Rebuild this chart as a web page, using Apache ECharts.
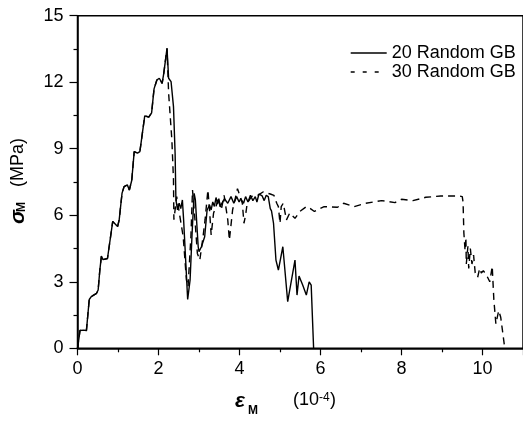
<!DOCTYPE html>
<html>
<head>
<meta charset="utf-8">
<script src="https://cdn.jsdelivr.net/npm/echarts@6/dist/echarts.min.js"></script>
<style>
  html, body { margin: 0; padding: 0; background: #fff; }
  #chart { width: 523px; height: 422px; }
</style>
</head>
<body>
<div id="chart"></div>
<script>
// strain (10^-4) vs stress (MPa)
const seriesNames = ['20 Random GB', '30 Random GB'];

const riseToPeak = [
  [0, 0], [0.04, 0.5], [0.06, 0.8], [0.15, 0.82], [0.22, 0.8], [0.29, 2.2], [0.34, 2.33],
  [0.47, 2.48], [0.51, 2.63], [0.55, 3.5], [0.59, 4.16], [0.63, 4.0], [0.74, 4.05],
  [0.87, 5.72], [0.91, 5.64], [0.99, 5.49], [1.03, 5.8], [1.1, 7.0], [1.15, 7.29],
  [1.23, 7.37], [1.28, 7.14], [1.34, 7.58], [1.4, 8.87], [1.48, 8.8], [1.54, 8.87],
  [1.58, 8.85], [1.66, 10.48], [1.76, 10.43], [1.83, 10.62], [1.89, 11.7], [1.96, 12.1],
  [2.02, 12.18], [2.09, 11.95], [2.13, 12.4], [2.21, 13.53]
];

const gb20After = [
  [2.25, 12.18], [2.31, 12.03], [2.37, 10.9], [2.41, 8.8], [2.43, 6.69], [2.47, 6.24],
  [2.51, 6.54], [2.55, 6.3], [2.59, 6.69], [2.62, 5.8], [2.72, 2.2], [2.78, 3.08],
  [2.83, 5.2], [2.88, 6.99], [2.91, 6.7], [2.98, 4.58], [3.0, 4.36], [3.06, 4.58],
  [3.14, 5.03], [3.2, 6.24], [3.26, 6.46], [3.3, 6.24], [3.34, 6.6], [3.38, 6.4],
  [3.42, 6.8], [3.46, 6.5], [3.49, 6.75], [3.52, 6.39], [3.63, 6.75], [3.71, 6.54],
  [3.79, 6.84], [3.86, 6.54], [3.93, 6.84], [3.99, 6.6], [4.03, 6.75], [4.1, 6.54],
  [4.15, 6.84], [4.21, 6.6], [4.27, 6.9], [4.33, 6.66], [4.39, 6.84], [4.43, 6.6],
  [4.48, 6.96], [4.56, 6.87], [4.61, 6.66], [4.66, 6.9], [4.71, 6.84], [4.76, 6.3],
  [4.79, 6.2], [4.84, 5.64], [4.9, 3.98], [4.96, 3.53], [5.07, 4.58], [5.19, 2.1],
  [5.37, 3.98], [5.42, 2.4], [5.47, 3.26], [5.56, 2.85], [5.65, 2.4], [5.72, 3.0],
  [5.77, 2.85], [5.83, 0]
];

const gb30After = [
  [2.25, 11.5], [2.33, 9.4], [2.37, 7.6], [2.38, 5.8], [2.45, 6.84], [2.53, 5.93],
  [2.61, 5.03], [2.69, 3.08], [2.73, 2.78], [2.8, 5.03], [2.84, 7.14], [2.9, 5.8],
  [2.96, 4.28], [3.02, 3.98], [3.1, 5.03], [3.15, 5.8], [3.22, 7.14], [3.26, 6.24],
  [3.3, 5.11], [3.36, 6.1], [3.42, 6.39], [3.48, 6.8], [3.55, 6.24], [3.62, 6.9],
  [3.71, 5.8], [3.75, 4.88], [3.83, 6.24], [3.95, 7.2], [4.07, 6.54], [4.11, 5.64],
  [4.15, 6.0], [4.19, 6.54], [4.3, 6.85], [4.45, 6.9], [4.58, 7.05], [4.67, 7.0],
  [4.76, 6.96], [4.85, 6.9], [4.92, 6.54], [4.96, 6.39], [5.0, 5.64], [5.03, 6.39],
  [5.08, 6.54], [5.16, 5.79], [5.24, 6.1], [5.37, 5.86], [5.49, 6.17], [5.65, 6.39],
  [5.75, 6.3], [5.85, 6.17], [6.09, 6.39], [6.42, 6.36], [6.57, 6.54], [6.83, 6.39],
  [7.11, 6.54], [7.51, 6.66], [7.84, 6.57], [8.0, 6.72], [8.28, 6.66], [8.6, 6.81],
  [8.97, 6.87], [9.42, 6.87], [9.5, 6.84], [9.52, 6.6], [9.54, 5.2], [9.57, 4.4],
  [9.59, 5.0], [9.6, 3.8], [9.64, 4.6], [9.66, 3.6], [9.7, 4.5], [9.74, 3.8],
  [9.78, 4.2], [9.82, 3.4], [9.88, 3.2], [9.93, 3.6], [9.97, 3.4], [10.02, 3.5],
  [10.1, 3.3], [10.18, 3.0], [10.24, 3.7], [10.28, 2.2], [10.33, 1.1], [10.4, 1.7],
  [10.45, 1.4], [10.55, 0]
];

const gb20 = riseToPeak.concat(gb20After);
const gb30 = riseToPeak.concat(gb30After);

const font = '"Liberation Sans", Arial, sans-serif';
const myChart = echarts.init(document.getElementById('chart'));

const axisCommon = {
  type: 'value',
  axisLine: { lineStyle: { color: '#000', width: 1.5 } },
  axisTick: { inside: false, lineStyle: { color: '#000', width: 1.2 } },
  minorTick: { show: true, splitNumber: 2, length: 4, lineStyle: { color: '#000', width: 1.2 } },
  splitLine: { show: false },
  axisLabel: { color: '#000', fontSize: 18, fontFamily: font }
};

const option = {
  animation: false,
  backgroundColor: '#fff',
  grid: {
    left: 77.5, top: 15.7, width: 452.6, height: 332.6,
    show: true, borderColor: '#000', borderWidth: 1.5
  },
  xAxis: Object.assign({}, axisCommon, {
    min: 0, max: 11, interval: 2,
    axisTick: Object.assign({}, axisCommon.axisTick, { length: 7 }),
    axisLabel: Object.assign({}, axisCommon.axisLabel, { margin: 12, showMaxLabel: false })
  }),
  yAxis: Object.assign({}, axisCommon, {
    min: 0, max: 15, interval: 3,
    axisTick: Object.assign({}, axisCommon.axisTick, { length: 8 }),
    axisLabel: Object.assign({}, axisCommon.axisLabel, { margin: 14 })
  }),
  legend: {
    orient: 'vertical',
    left: 350, top: 43.5,
    padding: 0,
    itemGap: 0,
    itemWidth: 36,
    itemHeight: 14,
    itemStyle: { color: 'transparent', borderColor: 'transparent', borderWidth: 0 },
    lineStyle: { width: 1.4 },
    textStyle: { color: '#000', fontSize: 18, fontFamily: font, lineHeight: 19 },
    data: [
      { name: seriesNames[0] },
      { name: seriesNames[1], lineStyle: { type: [4, 8], width: 1.4 } }
    ]
  },
  series: [
    {
      name: seriesNames[1], type: 'line', data: gb30,
      symbol: 'none', z: 2,
      lineStyle: { color: '#000', width: 1.4, type: [7, 5] },
      itemStyle: { color: '#000' }
    },
    {
      name: seriesNames[0], type: 'line', data: gb20,
      symbol: 'none', z: 3,
      lineStyle: { color: '#000', width: 1.4 },
      itemStyle: { color: '#000' }
    }
  ],
  graphic: [
    // y axis title
    { type: 'text', x: 18, y: 224, rotation: Math.PI / 2,
      style: { text: 'σ', font: 'italic bold 21px ' + font, fill: '#000', textAlign: 'left', textVerticalAlign: 'middle' } },
    { type: 'text', x: 21.5, y: 212, rotation: Math.PI / 2,
      style: { text: 'M', font: 'bold 12px ' + font, fill: '#000', textAlign: 'left', textVerticalAlign: 'middle' } },
    { type: 'text', x: 18, y: 187, rotation: Math.PI / 2,
      style: { text: '(MPa)', font: '18px ' + font, fill: '#000', textAlign: 'left', textVerticalAlign: 'middle' } },
    // x axis title
    { type: 'text', x: 235, y: 401,
      style: { text: 'ε', font: 'italic bold 21px ' + font, fill: '#000', textAlign: 'left', textVerticalAlign: 'middle' } },
    { type: 'text', x: 248, y: 410.5,
      style: { text: 'M', font: 'bold 12px ' + font, fill: '#000', textAlign: 'left', textVerticalAlign: 'middle' } },
    { type: 'text', x: 293, y: 399.7,
      style: { text: '(10', font: '18px ' + font, fill: '#000', textAlign: 'left', textVerticalAlign: 'middle' } },
    { type: 'text', x: 319, y: 397.8,
      style: { text: '-4', font: '12px ' + font, fill: '#000', textAlign: 'left', textVerticalAlign: 'middle' } },
    { type: 'text', x: 330, y: 399.7,
      style: { text: ')', font: '18px ' + font, fill: '#000', textAlign: 'left', textVerticalAlign: 'middle' } }
  ]
};

myChart.setOption(option);
</script>
</body>
</html>
